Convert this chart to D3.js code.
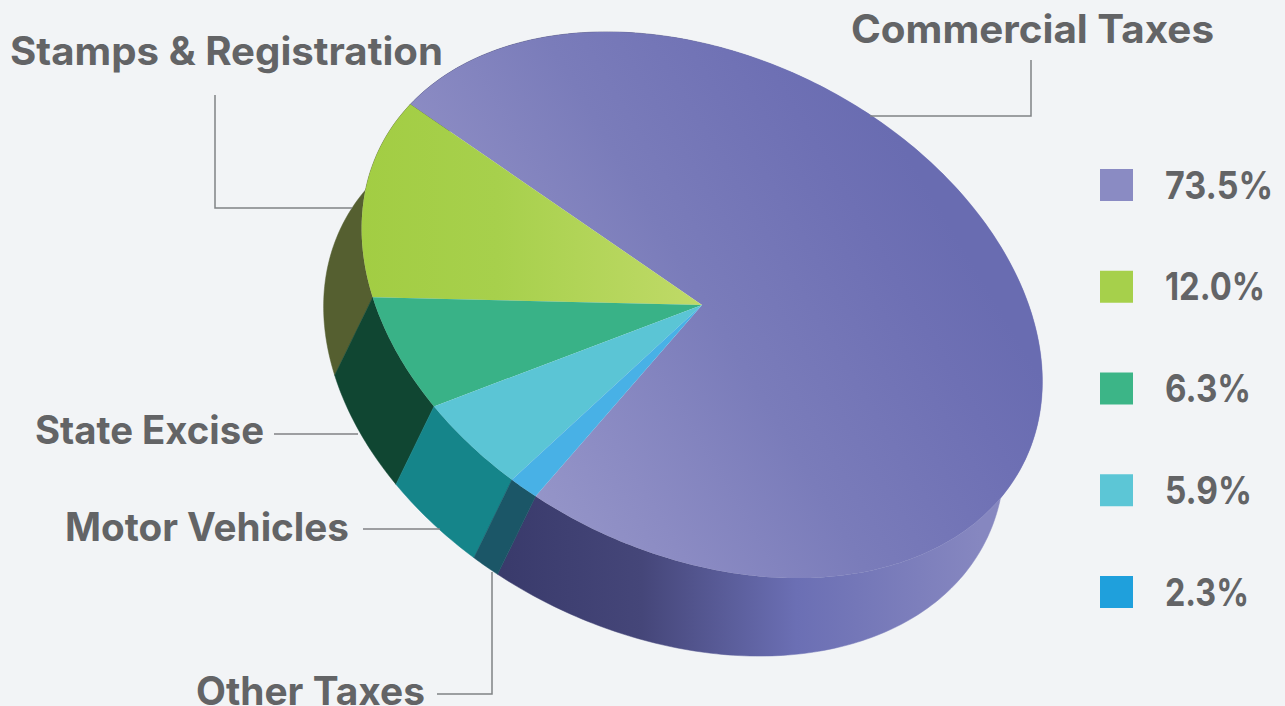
<!DOCTYPE html>
<html>
<head>
<meta charset="utf-8">
<script src="https://cdn.jsdelivr.net/npm/d3@7"></script>
<style>
  html, body { margin: 0; padding: 0; background: #f2f4f6; overflow: hidden; }
  text { font-family: Inter, "Open Sans", sans-serif; font-weight: 650; fill: #636466; }
</style>
</head>
<body>
<div id="chart"></div>
<script>
// ----- Data -----
const categories = ["Commercial Taxes", "Stamps & Registration", "State Excise", "Motor Vehicles", "Other Taxes"];
const percentLabels = ["73.5%", "12.0%", "6.3%", "5.9%", "2.3%"];
// slice shares as they are drawn in the picture (the drawn wedges differ a bit from the printed labels)
const drawnShares = [74.5, 12.7, 6.5, 5.0, 1.3];

const legendColors = ["#8a8bc3", "#a6d04b", "#3cb587", "#5cc6d6", "#1fa0dc"];
const topColors = ["url(#topPurple)", "url(#topGreen)", "#39b287", "#5bc5d5", "#48b1e6"];
const wallColors = ["url(#wallPurple)", "#555f30", "#104632", "#15858a", "#1b5667"];

// ----- Layout -----
const width = 1285, height = 706;
const cx = 702, cy = 305;          // apex of the pie
const rx = 358.4, ry = 249;        // tilted disc radii
const tilt = 25.8 * Math.PI / 180;
const depth = { x: -38, y: 78 };   // extrusion of the disc
const firstAngle = 100.7 * Math.PI / 180;

const labelLayout = [
  { x: 851, y: 43, w: 363, line: [[1031, 60], [1031, 116], [870, 116]] },
  { x: 10, y: 65, w: 433, line: [[215, 95], [215, 208], [352, 208]] },
  { x: 35, y: 444, w: 229, line: [[274, 434], [358, 434]] },
  { x: 65, y: 541, w: 284, line: [[363, 529], [440, 529]] },
  { x: 196, y: 705, w: 229, line: [[437, 694], [492, 694], [492, 572]] }
];
const legendTextWidths = [108, 100, 86, 87, 84];

const svg = d3.select("#chart")
    .append("svg")
    .attr("width", width)
    .attr("height", height);

// Gradients
const defs = svg.append("defs");

function addGradient(id, p1, p2, stops) {
    const g = defs.append("linearGradient")
        .attr("id", id)
        .attr("gradientUnits", "userSpaceOnUse")
        .attr("x1", p1[0]).attr("y1", p1[1])
        .attr("x2", p2[0]).attr("y2", p2[1]);
    stops.forEach(s => g.append("stop").attr("offset", s[0]).attr("stop-color", s[1]));
}

addGradient("topPurple", [171, -103], [600, -360], [[0, "#9595c8"], [0.2, "#8b8bc3"], [0.5, "#7a7cba"], [0.85, "#6e70b4"], [1, "#696cb1"]]);
addGradient("topGreen", [360, 0], [702, 0], [[0, "#a2cd43"], [0.4, "#a7d04c"], [1, "#c0da68"]]);
addGradient("wallPurple", [497, 0], [980, 0], [[0, "#393a6b"], [0.3, "#454679"], [0.62, "#6b6fb4"], [1, "#8687c0"]]);

// Point of the disc edge at a pie angle (0 = up, clockwise), pushed down by lift
function project(angle, lift) {
    const u = rx * Math.sin(angle), v = -ry * Math.cos(angle);
    return [
        cx + u * Math.cos(tilt) - v * Math.sin(tilt) + (lift ? depth.x : 0),
        cy + u * Math.sin(tilt) + v * Math.cos(tilt) + (lift ? depth.y : 0)
    ];
}

function edge(d, lift) {
    const steps = Math.max(8, Math.ceil(Math.abs(d.endAngle - d.startAngle) * 60));
    const t = d3.scaleLinear().domain([0, steps]).range([d.startAngle, d.endAngle]);
    return d3.range(steps + 1).map(i => project(t(i), lift));
}

const pie = d3.pie()
    .sort(null)
    .startAngle(firstAngle + Math.PI / 2)
    .endAngle(firstAngle + Math.PI / 2 - 2 * Math.PI);

const slices = pie(drawnShares);
const line = d3.line();

// Side walls go first, the top hides what is behind it
svg.append("g").selectAll("path")
    .data(slices)
    .enter().append("path")
    .attr("d", d => line(edge(d, false).concat(edge(d, true).reverse())) + "Z")
    .attr("fill", (d, i) => wallColors[i])
    .attr("stroke", (d, i) => wallColors[i])
    .attr("stroke-width", 0.5);

svg.append("g").selectAll("path")
    .data(slices)
    .enter().append("path")
    .attr("d", d => line([[cx, cy]].concat(edge(d, false))) + "Z")
    .attr("fill", (d, i) => topColors[i]);

// Leader lines and labels
svg.append("g").selectAll("path")
    .data(labelLayout)
    .enter().append("path")
    .attr("d", d => line(d.line))
    .attr("fill", "none")
    .attr("stroke", "#808285")
    .attr("stroke-width", 1.5);

svg.append("g").selectAll("text")
    .data(categories)
    .enter().append("text")
    .attr("x", (d, i) => labelLayout[i].x)
    .attr("y", (d, i) => labelLayout[i].y)
    .attr("textLength", (d, i) => labelLayout[i].w)
    .attr("lengthAdjust", "spacingAndGlyphs")
    .style("font-size", "39px")
    .text(d => d);

// Legend
const legendY = d3.scalePoint()
    .domain(percentLabels)
    .range([169, 576]);

const legend = svg.append("g").selectAll("g")
    .data(percentLabels)
    .enter().append("g")
    .attr("transform", d => `translate(1100, ${legendY(d)})`);

legend.append("rect")
    .attr("width", 33)
    .attr("height", 32)
    .attr("fill", (d, i) => legendColors[i]);

legend.append("text")
    .attr("x", 65)
    .attr("y", 29.5)
    .attr("textLength", (d, i) => legendTextWidths[i])
    .attr("lengthAdjust", "spacingAndGlyphs")
    .style("font-size", "38px")
    .text(d => d);
</script>
</body>
</html>
